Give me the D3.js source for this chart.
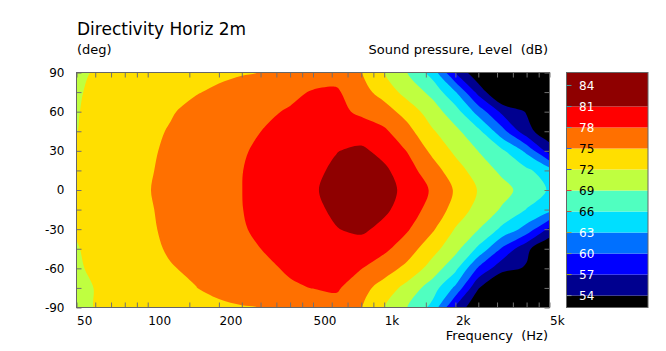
<!DOCTYPE html>
<html>
<head>
<meta charset="utf-8">
<script src="https://cdn.jsdelivr.net/npm/d3@7"></script>
<style>
  body { margin: 0; background: #fff; }
  svg { display: block; font-family: "DejaVu Sans", Verdana, sans-serif; }
</style>
</head>
<body>
<svg id="chart" width="666" height="351"></svg>
<script>
// grid of measured SPL, rows = angle (top to bottom), cols = frequency
const freqs = [50, 63, 80, 100, 125, 160, 200, 250, 315, 400, 500, 630, 800, 1000, 1250, 1600, 2000, 2500, 3150, 4000, 5000]
const angles = [90, 75, 60, 45, 30, 15, 0, -15, -30, -45, -60, -75, -90]
const spl = [
  [71.6, 72.3, 72.9, 73.4, 73.8, 74.2, 74.5, 74.8, 75.1, 75.9, 76.6, 76.8, 75.1, 72.0, 69.0, 64.7, 56.8, 51.5, 50.5, 50.0, 50.0],
  [71.8, 72.5, 73.1, 73.7, 74.2, 74.85, 75.4, 76.0, 76.7, 77.4, 78.2, 78.4, 76.0, 73.9, 70.8, 68.2, 63.2, 56.0, 50.0, 50.5, 51.0],
  [71.9, 72.6, 73.3, 74.0, 74.8, 75.7, 76.4, 77.0, 77.6, 78.25, 79.0, 78.7, 77.5, 76.2, 73.9, 70.35, 67.35, 61.8, 56.3, 53.8, 52.0],
  [71.95, 72.9, 73.6, 74.4, 75.2, 75.95, 76.6, 77.35, 78.15, 79.0, 79.7, 80.0, 79.4, 78.5, 76.0, 72.34, 69.7, 66.75, 61.1, 55.0, 52.0],
  [72.4, 73.1, 73.8, 74.7, 75.35, 76.1, 76.9, 77.75, 78.6, 79.5, 80.3, 80.9, 81.6, 80.0, 77.9, 74.3, 71.4, 68.95, 66.5, 62.3, 55.5],
  [72.6, 73.3, 74.0, 74.8, 75.5, 76.35, 77.15, 77.95, 78.8, 79.6, 80.3, 81.6, 83.0, 81.6, 79.2, 76.3, 73.3, 70.6, 68.4, 66.6, 64.3],
  [72.9, 73.5, 74.2, 74.9, 75.6, 76.5, 77.3, 77.98, 78.9, 79.7, 80.5, 82.5, 84.0, 82.0, 80.24, 77.6, 74.67, 71.83, 69.98, 67.85, 65.7],
  [72.7, 73.4, 74.1, 74.8, 75.5, 76.4, 77.2, 77.95, 78.8, 79.6, 80.3, 81.6, 83.0, 81.6, 79.5, 76.9, 73.9, 70.9, 68.7, 65.9, 64.0],
  [72.15, 73.2, 73.9, 74.75, 75.35, 76.2, 77.0, 77.8, 78.6, 79.5, 80.3, 80.9, 81.6, 80.1, 78.3, 75.4, 71.8, 69.1, 65.3, 61.9, 56.2],
  [71.9, 72.6, 73.3, 74.4, 75.3, 76.0, 76.7, 77.4, 78.15, 78.9, 79.5, 79.8, 79.5, 78.6, 76.5, 73.06, 70.0, 65.4, 59.6, 54.7, 51.0],
  [71.7, 72.6, 73.4, 74.1, 74.85, 75.45, 76.1, 76.9, 77.6, 78.3, 78.8, 78.7, 78.1, 76.4, 74.2, 70.75, 66.8, 59.6, 55.0, 53.7, 51.5],
  [71.5, 72.2, 72.9, 73.5, 74.1, 74.95, 75.7, 76.5, 77.2, 77.7, 78.05, 78.4, 76.1, 73.7, 71.0, 67.45, 62.4, 54.2, 50.0, 50.0, 50.0],
  [71.5, 72.2, 72.8, 73.3, 73.7, 74.1, 74.45, 74.8, 75.1, 75.9, 76.5, 76.8, 75.1, 72.0, 69.0, 65.1, 56.5, 51.0, 50.0, 50.0, 50.0]
]

const levels = [54, 57, 60, 63, 66, 69, 72, 75, 78, 81]
const levelColors = ["#00008f", "#0000ff", "#0070ff", "#00dfff", "#50ffc0", "#bfff40", "#ffdf00", "#ff7000", "#ff0000", "#8f0000"]
const belowColor = "#000000"

const barLabels = [84, 81, 78, 75, 72, 69, 66, 63, 60, 57, 54]
const barLabelFill = ["#fff", "#fff", "#fff", "#000", "#000", "#000", "#000", "#fff", "#fff", "#fff", "#fff"]
const barTickColors = ["#4a9a9a", "#3a9ab0", "#5a9fa0", "#3060d0", "#3050c0", "#e04030", "#b06040", "#b0a030", "#80a060", "#a0a020", "#8090a0"]
const barRange = [52.3, 85.85]

const freqTicks = [50, 60, 70, 80, 90, 100, 150, 200, 250, 300, 350, 400, 450, 500, 600, 700, 800, 900, 1000, 1500, 2000, 2500, 3000, 3500, 4000, 4500, 5000]
const freqLabels = [50, 100, 200, 500, 1000, 2000, 5000]
const angleLabels = [90, 60, 30, 0, -30, -60, -90]

const svg = d3.select("#chart")
const plot = {left: 76.5, top: 72.5, right: 549.5, bottom: 307.5}
const bar = {left: 566.5, right: 648, top: 72.5, bottom: 307.5}
const frameColor = "#666"

const x = d3.scaleLog().domain([50, 5000]).range([plot.left, plot.right])
const y = d3.scaleLinear().domain([-90, 90]).range([plot.bottom, plot.top])

// grid index -> pixel (piecewise, through the real frequency / angle of each column / row)
const nx = freqs.length, ny = angles.length
const colX = d3.scaleLinear().domain(d3.range(nx)).range(freqs.map(f => x(f))).clamp(true)
const rowY = d3.scaleLinear().domain(d3.range(ny)).range(angles.map(a => y(a))).clamp(true)
// outer grid border is pushed outside the clip so the curve can't leave gaps on the frame
const gx = g => g <= 0 ? plot.left - 10 : g >= nx ? plot.right + 10 : colX(g - 0.5)
const gy = g => g <= 0 ? plot.top - 10 : g >= ny ? plot.bottom + 10 : rowY(g - 0.5)

const contours = d3.contours().size([nx, ny]).thresholds(levels)(spl.flat())

const ringLine = d3.line()
    .x(p => gx(p[0]))
    .y(p => gy(p[1]))
    .curve(d3.curveCatmullRomClosed.alpha(0.5))

const ringPath = r => {
  let pts = r.slice()
  let a = pts[0], b = pts[pts.length - 1]
  if (a[0] === b[0] && a[1] === b[1]) pts.pop()
  return ringLine(pts)
}
const multiPath = c => c.coordinates.map(poly => poly.map(ringPath).join("")).join("")

svg.append("clipPath").attr("id", "plotclip")
  .append("rect")
    .attr("x", plot.left).attr("y", plot.top)
    .attr("width", plot.right - plot.left).attr("height", plot.bottom - plot.top)

const field = svg.append("g").attr("clip-path", "url(#plotclip)")

field.append("rect")
    .attr("x", plot.left).attr("y", plot.top)
    .attr("width", plot.right - plot.left).attr("height", plot.bottom - plot.top)
    .attr("fill", belowColor)

field.selectAll("path")
  .data(contours)
  .enter().append("path")
    .attr("d", multiPath)
    .attr("fill", (d, i) => levelColors[i])
    .attr("fill-rule", "evenodd")

// axes, ticks pointing inward
const fmtFreq = d => freqLabels.includes(d) ? (d >= 1000 ? (d / 1000) + "k" : d) : ""

const xAxis = svg.append("g")
    .attr("transform", "translate(0," + plot.bottom + ")")
    .call(d3.axisBottom(x).tickValues(freqTicks).tickSize(-5).tickPadding(9).tickFormat(fmtFreq))
xAxis.selectAll("text").attr("text-anchor", "start")

svg.append("g")
    .attr("transform", "translate(0," + plot.top + ")")
    .call(d3.axisTop(x).tickValues(freqTicks).tickSize(-5).tickFormat(""))

svg.append("g")
    .attr("transform", "translate(" + plot.left + ",0)")
    .call(d3.axisLeft(y).tickValues(angles).tickSize(-5).tickPadding(12)
      .tickFormat(d => angleLabels.includes(d) ? d : ""))

svg.append("g")
    .attr("transform", "translate(" + plot.right + ",0)")
    .call(d3.axisRight(y).tickValues(angles).tickSize(-5).tickFormat(""))

svg.selectAll(".domain").remove()
svg.selectAll(".tick line").attr("stroke", "#707070")
svg.selectAll(".tick text").attr("font-size", 12).attr("fill", "#000")
    .attr("font-family", "DejaVu Sans, Verdana, sans-serif")

svg.append("rect")
    .attr("x", plot.left).attr("y", plot.top)
    .attr("width", plot.right - plot.left).attr("height", plot.bottom - plot.top)
    .attr("fill", "none").attr("stroke", frameColor)

// titles
svg.append("text").attr("x", 77).attr("y", 35)
    .attr("font-size", 17).text("Directivity Horiz 2m")
svg.append("text").attr("x", 77).attr("y", 54)
    .attr("font-size", 13).text("(deg)")
svg.append("text").attr("x", 548).attr("y", 54)
    .attr("font-size", 13).attr("text-anchor", "end")
    .style("white-space", "pre").text("Sound pressure, Level  (dB)")
svg.append("text").attr("x", 548).attr("y", 340)
    .attr("font-size", 13).attr("text-anchor", "end")
    .style("white-space", "pre").text("Frequency  (Hz)")

// colour bar
const cy = d3.scaleLinear().domain(barRange).range([bar.bottom, bar.top])
const bands = [barRange[0]].concat(levels).map((lo, i, a) => ({
  lo: lo,
  hi: i < a.length - 1 ? a[i + 1] : barRange[1],
  color: i === 0 ? belowColor : levelColors[i - 1]
}))

svg.append("g").selectAll("rect")
  .data(bands)
  .enter().append("rect")
    .attr("x", bar.left).attr("width", bar.right - bar.left)
    .attr("y", d => cy(d.hi)).attr("height", d => cy(d.lo) - cy(d.hi))
    .attr("fill", d => d.color)

svg.append("rect")
    .attr("x", bar.left).attr("y", bar.top)
    .attr("width", bar.right - bar.left).attr("height", bar.bottom - bar.top)
    .attr("fill", "none").attr("stroke", frameColor)

svg.append("g").selectAll("line")
  .data(barLabels)
  .enter().append("line")
    .attr("x1", bar.left).attr("x2", bar.left + 5)
    .attr("y1", d => cy(d)).attr("y2", d => cy(d))
    .attr("stroke", (d, i) => barTickColors[i])

svg.append("g").selectAll("text")
  .data(barLabels)
  .enter().append("text")
    .attr("x", 579).attr("y", d => cy(d)).attr("dy", "0.36em")
    .attr("font-size", 12)
    .attr("fill", (d, i) => barLabelFill[i])
    .text(d => d)
</script>
</body>
</html>
